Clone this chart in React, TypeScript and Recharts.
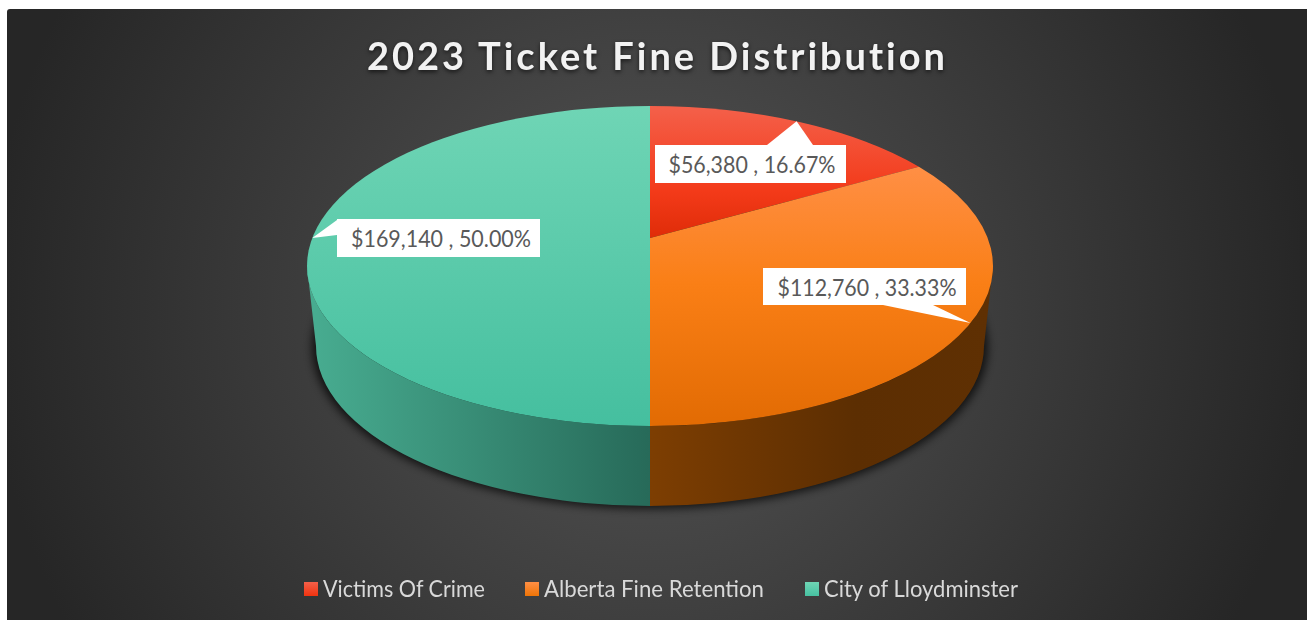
import { Legend, Pie, PieChart } from "recharts";

const sliceNames = ["Victims Of Crime", "Alberta Fine Retention", "City of Lloydminster"];
const fineAmounts = [56380, 112760, 169140];

const data = sliceNames.map((name, i) => ({ name, amount: fineAmounts[i] }));

const chartFont = "Lato, 'Open Sans', sans-serif";
const gradientIds = ["top-red", "top-orange", "top-teal"];
const wallIds = ["wall-red", "wall-orange", "wall-teal"];
const swatches = ["linear-gradient(#f4604a, #f0330f)", "linear-gradient(#ff8f45, #ee7406)", "linear-gradient(#6fd5b5, #47c1a1)"];

// the pie is tilted: ellipse on screen, with the hub pushed up by perspective
const SQUASH = 160 / 343;
const HUB_SHIFT = 0.175;
const DEPTH = 80;
const BASE_RX = 334 / 343;

// library angle (degrees, counter-clockwise) -> point on the tilted disc
function project(deg: number, cx: number, cy: number, r: number) {
  const rad = (deg * Math.PI) / 180;
  const u = Math.cos(rad);
  const v = Math.sin(rad);
  const w = 1 + HUB_SHIFT * v;
  const px = (u * Math.sqrt(1 - HUB_SHIFT * HUB_SHIFT)) / w;
  const py = (v + HUB_SHIFT) / w;
  let t = (Math.atan2(px, py) * 180) / Math.PI;
  if (t < 0) t += 360;
  return { x: cx + r * px, y: cy - r * SQUASH * py, t };
}

function rimPoint(t: number, cx: number, cy: number, rx: number, ry: number) {
  const rad = (t * Math.PI) / 180;
  return { x: cx + rx * Math.sin(rad), y: cy - ry * Math.cos(rad) };
}

function TiltedSlice(props: any) {
  const { cx, cy, outerRadius: r, startAngle, endAngle, payload } = props;
  const index = sliceNames.indexOf(payload?.name ?? props.name);
  const a = project(startAngle, cx, cy, r);
  const b = project(endAngle, cx, cy, r);
  const tStart = a.t;
  const tEnd = b.t <= tStart ? b.t + 360 : b.t;
  const ry = r * SQUASH;
  const large = tEnd - tStart > 180 ? 1 : 0;
  const top = `M${cx},${cy - ry * HUB_SHIFT} L${a.x},${a.y} A${r},${ry} 0 ${large} 1 ${b.x},${b.y} Z`;

  const wallFrom = Math.max(tStart, 90);
  const wallTo = Math.min(tEnd, 270);
  let wall = null;
  if (wallFrom < wallTo) {
    const brx = r * BASE_RX;
    const bcy = cy + DEPTH;
    const t0 = rimPoint(wallFrom, cx, cy, r, ry);
    const t1 = rimPoint(wallTo, cx, cy, r, ry);
    const b0 = rimPoint(wallFrom, cx, bcy, brx, ry);
    const b1 = rimPoint(wallTo, cx, bcy, brx, ry);
    const d = `M${t0.x},${t0.y} A${r},${ry} 0 0 1 ${t1.x},${t1.y} L${b1.x},${b1.y} A${brx},${ry} 0 0 0 ${b0.x},${b0.y} Z`;
    wall = <path d={d} fill={`url(#${wallIds[index]})`} />;
  }
  return (
    <g>
      {wall}
      <path d={top} fill={`url(#${gradientIds[index]})`} />
    </g>
  );
}

// white box and pointer for each slice, the pointer tip lands on the slice's mid angle
const calloutBoxes = [
  { x: 648, y: 136, w: 191, h: 38, textX: 745, textW: 167, base: [[760, 136], [806, 136]] },
  { x: 756, y: 259, w: 203, h: 37, textX: 860, textW: 179, base: [[876, 296], [926, 296]] },
  { x: 330, y: 210, w: 203, h: 38, textX: 434, textW: 180, base: [[330, 211], [330, 226]] },
];

function renderCallout(props: any) {
  const { cx, cy, midAngle, outerRadius, percent, value, index } = props;
  const box = calloutBoxes[index];
  const tip = project(midAngle, cx, cy, outerRadius);
  const text = `$${value.toLocaleString("en-US")} , ${(percent * 100).toFixed(2)}%`;
  return (
    <g key={index}>
      <rect x={box.x} y={box.y} width={box.w} height={box.h} fill="#fff" />
      <polygon points={`${box.base[0].join(",")} ${tip.x},${tip.y} ${box.base[1].join(",")}`} fill="#fff" />
      <text
        x={box.textX}
        y={box.y + box.h / 2 + 9}
        textAnchor="middle"
        fontFamily={chartFont}
        fontSize={23}
        fill="#595959"
        textLength={box.textW}
        lengthAdjust="spacingAndGlyphs"
      >
        {text}
      </text>
    </g>
  );
}

function renderLegend({ payload }: any) {
  return (
    <div style={{ position: "relative", height: 30 }}>
      {(payload ?? []).map((entry: any, i: number) => {
        const left = [297, 518, 798][i];
        const textW = [162, 220, 194][i];
        return (
          <div key={entry.value} style={{ position: "absolute", left, top: 0, whiteSpace: "nowrap" }}>
            <span style={{ position: "absolute", left: 0, top: 9, width: 14, height: 14, background: swatches[i] }} />
            <svg style={{ position: "absolute", left: 19, top: 0, overflow: "visible" }} width={textW} height={30}>
              <text y={24} fontFamily={chartFont} fontSize={23} fill="#d9d9d9" textLength={textW} lengthAdjust="spacingAndGlyphs">
                {entry.value}
              </text>
            </svg>
          </div>
        );
      })}
    </div>
  );
}

export default function App() {
  return (
    <div
      style={{
        position: "fixed",
        left: 7,
        top: 9,
        width: 1300,
        height: 611,
        borderTopLeftRadius: 3,
        background: "radial-gradient(circle 663px at 643px 301px, #555555, #262626)",
      }}
    >
      <PieChart width={1300} height={611} margin={{ top: 0, right: 0, bottom: 0, left: 0 }}>
        <defs>
          <linearGradient id="top-red" x1="0" y1="0" x2="0" y2="1">
            <stop offset="0" stopColor="#f4604a" />
            <stop offset="0.65" stopColor="#f33a19" />
            <stop offset="1" stopColor="#df2c08" />
          </linearGradient>
          <linearGradient id="top-orange" x1="0" y1="0" x2="0" y2="1">
            <stop offset="0" stopColor="#ff8f45" />
            <stop offset="0.45" stopColor="#fa7f16" />
            <stop offset="1" stopColor="#e26b03" />
          </linearGradient>
          <linearGradient id="top-teal" x1="0" y1="0" x2="0" y2="1">
            <stop offset="0" stopColor="#6fd5b5" />
            <stop offset="1" stopColor="#45bf9f" />
          </linearGradient>
          <linearGradient id="wall-red" x1="0" y1="0" x2="1" y2="0">
            <stop offset="0" stopColor="#7c2008" />
            <stop offset="1" stopColor="#7c2008" />
          </linearGradient>
          <linearGradient id="wall-orange" x1="0" y1="0" x2="1" y2="0">
            <stop offset="0" stopColor="#7d3e02" />
            <stop offset="0.6" stopColor="#5c2e02" />
            <stop offset="1" stopColor="#5f3003" />
          </linearGradient>
          <linearGradient id="wall-teal" x1="0" y1="0" x2="1" y2="0">
            <stop offset="0" stopColor="#48ad91" />
            <stop offset="1" stopColor="#276a59" />
          </linearGradient>
          <filter id="pie-shadow" x="-5%" y="-5%" width="110%" height="110%">
            <feGaussianBlur stdDeviation="4" />
          </filter>
        </defs>
        <ellipse cx={643} cy={338} rx={338} ry={162} fill="#000" opacity={0.7} filter="url(#pie-shadow)" />
        <text
          x={649}
          y={61}
          textAnchor="middle"
          fontFamily={chartFont}
          fontSize={38}
          fontWeight={700}
          fill="#f2f2f2"
          textLength={578}
          lengthAdjust="spacing"
          style={{ fontVariantLigatures: "none", filter: "drop-shadow(0 2px 2px rgba(0,0,0,0.6))" }}
        >
          2023 Ticket Fine Distribution
        </text>
        <Pie
          data={data}
          dataKey="amount"
          nameKey="name"
          cx={643}
          cy={257}
          outerRadius={343}
          startAngle={90}
          endAngle={-270}
          stroke="none"
          legendType="square"
          shape={TiltedSlice}
          label={renderCallout}
          labelLine={false}
          isAnimationActive={false}
        />
        <Legend content={renderLegend} itemSorter={null} wrapperStyle={{ left: 0, top: 564, width: 1300 }} />
      </PieChart>
    </div>
  );
}
